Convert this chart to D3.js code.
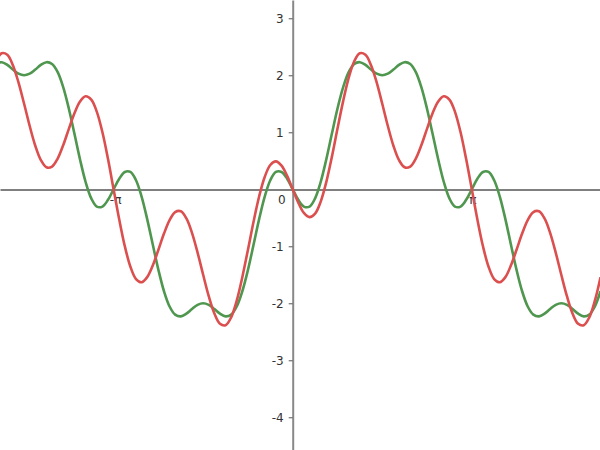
<!DOCTYPE html>
<html>
<head>
<meta charset="utf-8">
<script src="https://cdn.jsdelivr.net/npm/d3@7"></script>
<style>
  html, body { margin: 0; padding: 0; background: #fff; }
  svg { display: block; }
  text { font-family: "DejaVu Sans", sans-serif; font-size: 12px; fill: #333; }
</style>
</head>
<body>
<svg id="chart" width="600" height="450"></svg>
<script>
// x sample positions (radians)
const xs = [-5.203,-5.105,-5.007,-4.909,-4.811,-4.712,-4.614,-4.516,-4.418,-4.320,-4.222,-4.123,-4.025,-3.927,-3.829,-3.731,-3.633,-3.534,-3.436,-3.338,-3.240,-3.142,-3.043,-2.945,-2.847,-2.749,-2.651,-2.553,-2.454,-2.356,-2.258,-2.160,-2.062,-1.963,-1.865,-1.767,-1.669,-1.571,-1.473,-1.374,-1.276,-1.178,-1.080,-0.982,-0.884,-0.785,-0.687,-0.589,-0.491,-0.393,-0.295,-0.196,-0.098,0,0.098,0.196,0.295,0.393,0.491,0.589,0.687,0.785,0.884,0.982,1.080,1.178,1.276,1.374,1.473,1.571,1.669,1.767,1.865,1.963,2.062,2.160,2.258,2.356,2.454,2.553,2.651,2.749,2.847,2.945,3.043,3.142,3.240,3.338,3.436,3.534,3.633,3.731,3.829,3.927,4.025,4.123,4.222,4.320,4.418,4.516,4.614,4.712,4.811,4.909,5.007,5.105,5.203,5.301,5.400];

// green curve values
const greenVals = [2.199,2.230,2.182,2.100,2.028,2.000,2.028,2.100,2.182,2.230,2.199,2.056,1.789,1.414,0.973,0.523,0.128,-0.159,-0.304,-0.303,-0.185,0,0.185,0.303,0.304,0.159,-0.128,-0.523,-0.973,-1.414,-1.789,-2.056,-2.199,-2.230,-2.182,-2.100,-2.028,-2.000,-2.028,-2.100,-2.182,-2.230,-2.199,-2.056,-1.789,-1.414,-0.973,-0.523,-0.128,0.159,0.304,0.303,0.185,0,-0.185,-0.303,-0.304,-0.159,0.128,0.523,0.973,1.414,1.789,2.056,2.199,2.230,2.182,2.100,2.028,2.000,2.028,2.100,2.182,2.230,2.199,2.056,1.789,1.414,0.973,0.523,0.128,-0.159,-0.304,-0.303,-0.185,0,0.185,0.303,0.304,0.159,-0.128,-0.523,-0.973,-1.414,-1.789,-2.056,-2.199,-2.230,-2.182,-2.100,-2.028,-2.000,-2.028,-2.100,-2.182,-2.230,-2.199,-2.056,-1.789];

// red curve values
const redVals = [2.247,2.386,2.359,2.178,1.876,1.500,1.110,0.764,0.512,0.386,0.399,0.540,0.777,1.061,1.334,1.541,1.631,1.574,1.359,1.000,0.530,0,-0.530,-1.000,-1.359,-1.574,-1.631,-1.541,-1.334,-1.061,-0.777,-0.540,-0.399,-0.386,-0.512,-0.764,-1.110,-1.500,-1.876,-2.178,-2.359,-2.386,-2.247,-1.954,-1.542,-1.061,-0.569,-0.126,0.217,0.426,0.489,0.415,0.236,0,-0.236,-0.415,-0.489,-0.426,-0.217,0.126,0.569,1.061,1.542,1.954,2.247,2.386,2.359,2.178,1.876,1.500,1.110,0.764,0.512,0.386,0.399,0.540,0.777,1.061,1.334,1.541,1.631,1.574,1.359,1.000,0.530,0,-0.530,-1.000,-1.359,-1.574,-1.631,-1.541,-1.334,-1.061,-0.777,-0.540,-0.399,-0.386,-0.512,-0.764,-1.110,-1.500,-1.876,-2.178,-2.359,-2.386,-2.247,-1.954,-1.542];

const yTicks = [-4, -3, -2, -1, 1, 2, 3];
const yTickLabels = ["-4", "-3", "-2", "-1", "1", "2", "3"];
const xTickVals = [-Math.PI, Math.PI];
const xTickLabels = ["-π", "π"];

const W = 600, H = 450;
const svg = d3.select("#chart");

const x = d3.scaleLinear().domain([-5.135, 5.391]).range([0, W]);
const y = d3.scaleLinear().domain([-4.574, 3.321]).range([H, 0]);

// y axis
const yAxis = d3.axisLeft(y).tickValues(yTicks).tickSize(4).tickSizeOuter(0).tickPadding(5)
  .tickFormat((d, i) => yTickLabels[i]);
const gy = svg.append("g").attr("transform", `translate(${x(0)},0)`).call(yAxis);
gy.select(".domain").attr("stroke", "#888").attr("stroke-width", 2);
gy.selectAll(".tick line").attr("stroke", "#555");
gy.selectAll(".tick text").style("font-family", "DejaVu Sans, sans-serif").style("font-size", "12px").attr("fill", "#333");

// x axis
const xAxis = d3.axisBottom(x).tickValues(xTickVals).tickSize(0).tickSizeOuter(0).tickPadding(6)
  .tickFormat((d, i) => xTickLabels[i]);
const gx = svg.append("g").attr("transform", `translate(0,${Math.round(y(0)) + 0.5})`).call(xAxis);
gx.select(".domain").attr("stroke", "#000").attr("stroke-width", 1);
gx.selectAll(".tick text").style("font-family", "DejaVu Sans, sans-serif").style("font-size", "12px").attr("fill", "#333")
  .attr("dx", (d, i) => i === 0 ? 1.5 : 0.5);

// origin label
svg.append("text").attr("x", x(0) - 7).attr("y", y(0) + 14.5).attr("text-anchor", "end").text("0");

const line = d3.line().x((d, i) => x(xs[i])).y(d => y(d)).curve(d3.curveCatmullRom.alpha(0.5));

svg.append("path").datum(greenVals).attr("d", line).attr("fill", "none")
  .attr("stroke", "#4f964f").attr("stroke-width", 2.6).attr("stroke-linejoin", "round");
svg.append("path").datum(redVals).attr("d", line).attr("fill", "none")
  .attr("stroke", "#db4f4f").attr("stroke-width", 2.6).attr("stroke-linejoin", "round");
</script>
</body>
</html>
